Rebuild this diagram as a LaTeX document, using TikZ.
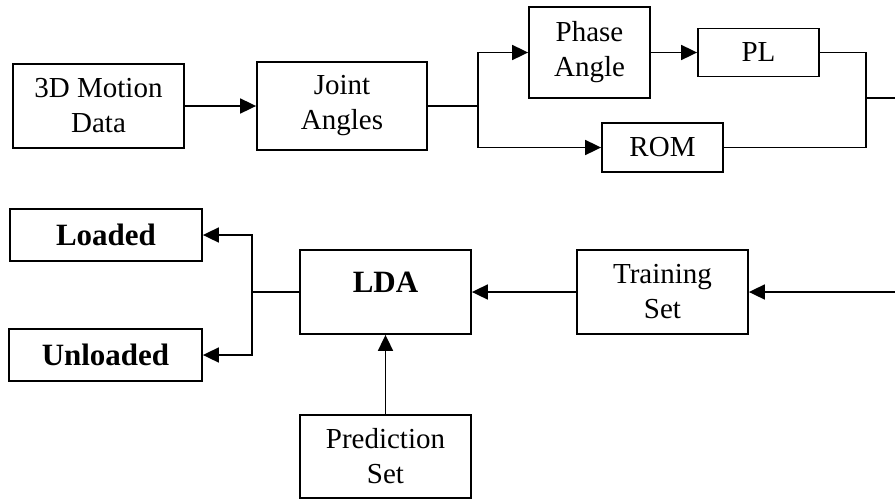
\documentclass[tikz,border=0pt]{standalone}
\usepackage{fontspec}
\setmainfont{Liberation Serif}
\usetikzlibrary{arrows.meta,calc}
\begin{document}
\begin{tikzpicture}[x=1pt,y=-1pt,
  box/.style={draw, line width=1.8pt, inner sep=0pt, align=center, font=\fontsize{29}{35}\selectfont},
  bbox/.style={box, font=\fontsize{31}{35}\selectfont\bfseries},
  conn/.style={line width=1.8pt},
  arr/.style={conn, -{Triangle[length=16pt,width=15pt]}}]
\useasboundingbox (0,0) rectangle (895,499);
% top row
\node[box, minimum width=171, minimum height=84] (md) at (98.5,106) {3D Motion\\Data};
\node[box, minimum width=170, minimum height=88] (ja) at (342,106) {Joint\\Angles};
\node[box, minimum width=121, minimum height=91] (pa) at (589.5,52.5) {Phase\\Angle};
\node[box, minimum width=121, minimum height=48] (pl) at (758.5,52.5) {PL};
\node[box, minimum width=121, minimum height=49] (rom) at (662.5,147.5) {ROM};
% bottom row
\node[box, minimum width=171, minimum height=84] (ts) at (662.5,292) {Training\\Set};
\node[box, minimum width=171, minimum height=84,
      label={[font=\fontsize{31}{35}\selectfont\bfseries, yshift=10pt]center:LDA}] (lda) at (385.5,292) {};
\node[bbox, minimum width=192, minimum height=52] (ld) at (106,235) {Loaded};
\node[bbox, minimum width=193, minimum height=52] (ul) at (105.5,355) {Unloaded};
\node[box, minimum width=171, minimum height=83] (ps) at (385.5,456.5) {Prediction\\Set};
% coordinates
\coordinate (b1) at (478,106);
\coordinate (b2) at (866,98);
\coordinate (e1) at (896,98);
\coordinate (e2) at (896,292);
\coordinate (b3) at (252,292);
% connectors
\draw[arr] (md.east) -- (ja.west);
\draw[conn] (ja.east) -- (b1);
\draw[arr] (b1) |- (pa.west);
\draw[arr] (b1) |- (rom.west);
\draw[arr] (pa.east) -- (pl.west);
\draw[conn] (pl.east) -| (b2) |- (rom.east);
\draw[conn] (b2) -- (e1);
\draw[arr] (e2) -- (ts.east);
\draw[arr] (ts.west) -- (lda.east);
\draw[conn] (lda.west) -- (b3);
\draw[arr] (b3) |- (ld.east);
\draw[arr] (b3) |- (ul.east);
\draw[arr] (ps.north) -- (lda.south);
\end{tikzpicture}
\end{document}
